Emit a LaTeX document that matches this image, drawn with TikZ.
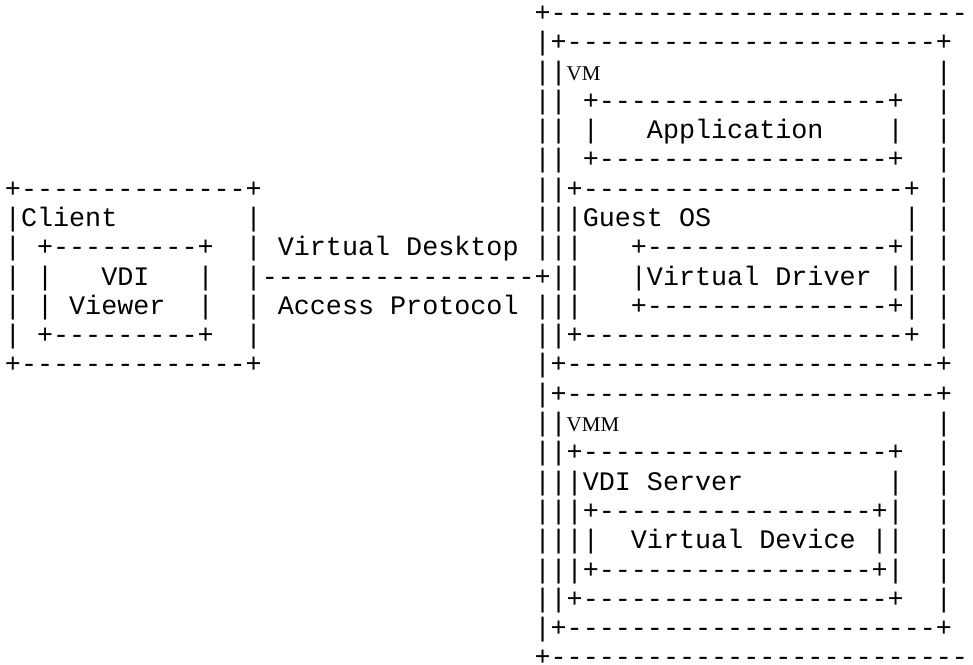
\documentclass[tikz,border=0pt]{standalone}
\usepackage{fontspec}
\setmainfont{Liberation Serif}
\setmonofont{Liberation Mono}
\newcount\dshcnt
\newcommand\Dsh[1]{\dshcnt=#1\relax\loop\ifnum\dshcnt>0 -\kern0pt\advance\dshcnt by -1\relax\repeat}
\tikzset{
  asc/.style={anchor=base west, inner sep=0pt, outer sep=0pt,
    font=\ttfamily\fontsize{26.75}{30}\selectfont, text=black},
  serifl/.style={anchor=base west, inner sep=0pt, outer sep=0pt,
    font=\rmfamily\fontsize{21}{24}\selectfont, text=black}
}
\newcommand\seg[3]{\node[asc] (r#1c#2) at ({4.97+#2*16.05},{-21.5-#1*29.29}) {#3};}
\begin{document}
\begin{tikzpicture}[x=1pt,y=1pt]
\useasboundingbox (0,0) rectangle (973,-664);
% row 0
\seg{0}{33}{+\Dsh{26}}
% row 1
\seg{1}{33}{|+\Dsh{23}+}
% row 2
\seg{2}{33}{||}
\node[serifl] (vm) at ({4.97+35*16.05},{-21.5-2*29.29}) {VM};
\seg{2}{58}{|}
% row 3
\seg{3}{33}{||}\seg{3}{36}{+\Dsh{18}+}\seg{3}{58}{|}
% row 4
\seg{4}{33}{||}\seg{4}{36}{|}\seg{4}{40}{Application}\seg{4}{55}{|}\seg{4}{58}{|}
% row 5
\seg{5}{33}{||}\seg{5}{36}{+\Dsh{18}+}\seg{5}{58}{|}
% row 6
\seg{6}{0}{+\Dsh{14}+}\seg{6}{33}{||+\Dsh{20}+}\seg{6}{58}{|}
% row 7
\seg{7}{0}{|Client}\seg{7}{15}{|}\seg{7}{33}{|||Guest~OS}\seg{7}{56}{|}\seg{7}{58}{|}
% row 8
\seg{8}{0}{|}\seg{8}{2}{+\Dsh{9}+}\seg{8}{15}{|}\seg{8}{17}{Virtual~Desktop}
\seg{8}{33}{|||}\seg{8}{39}{+\Dsh{15}+|}\seg{8}{58}{|}
% row 9
\seg{9}{0}{|}\seg{9}{2}{|}\seg{9}{6}{VDI}\seg{9}{12}{|}\seg{9}{15}{|\Dsh{17}+||}
\seg{9}{39}{|Virtual~Driver}\seg{9}{55}{||}\seg{9}{58}{|}
% row 10
\seg{10}{0}{|}\seg{10}{2}{|}\seg{10}{4}{Viewer}\seg{10}{12}{|}\seg{10}{15}{|}
\seg{10}{17}{Access~Protocol}\seg{10}{33}{|||}\seg{10}{39}{+\Dsh{15}+|}\seg{10}{58}{|}
% row 11
\seg{11}{0}{|}\seg{11}{2}{+\Dsh{9}+}\seg{11}{15}{|}\seg{11}{33}{||+\Dsh{20}+}\seg{11}{58}{|}
% row 12
\seg{12}{0}{+\Dsh{14}+}\seg{12}{33}{|+\Dsh{23}+}
% row 13
\seg{13}{33}{|+\Dsh{23}+}
% row 14
\seg{14}{33}{||}
\node[serifl] (vmm) at ({4.97+35*16.05},{-21.5-14*29.29}) {VMM};
\seg{14}{58}{|}
% row 15
\seg{15}{33}{||+\Dsh{19}+}\seg{15}{58}{|}
% row 16
\seg{16}{33}{|||VDI~Server}\seg{16}{55}{|}\seg{16}{58}{|}
% row 17
\seg{17}{33}{|||+\Dsh{17}+|}\seg{17}{58}{|}
% row 18
\seg{18}{33}{||||}\seg{18}{39}{Virtual~Device}\seg{18}{54}{||}\seg{18}{58}{|}
% row 19
\seg{19}{33}{|||+\Dsh{17}+|}\seg{19}{58}{|}
% row 20
\seg{20}{33}{||+\Dsh{19}+}\seg{20}{58}{|}
% row 21
\seg{21}{33}{|+\Dsh{23}+}
% row 22
\seg{22}{33}{+\Dsh{26}}
\end{tikzpicture}
\end{document}
